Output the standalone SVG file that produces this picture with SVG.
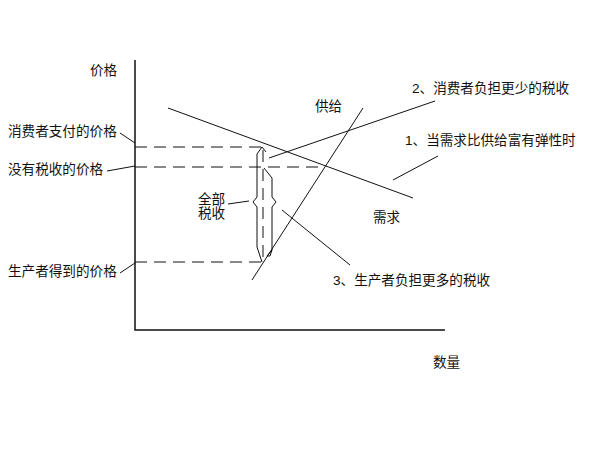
<svg xmlns="http://www.w3.org/2000/svg" width="600" height="450" viewBox="0 0 600 450">
<style>
text{font-family:"Liberation Sans","Noto Sans CJK SC",sans-serif;font-size:13.6px;fill:#111}
.ln{stroke:#111;stroke-width:1;fill:none}
.ax{stroke:#111;stroke-width:1.5;fill:none}
.ds{stroke:#111;stroke-width:1;fill:none;stroke-dasharray:12,7}
</style>
<rect width="600" height="450" fill="#fff"/>
<g id="axes">
<path class="ax" d="M135,60 V330 H445"/>
<text x="90" y="75">价格</text>
<text x="433" y="367">数量</text>
</g>
<g id="connectors">
<path class="ds" d="M135,147 H265"/>
<path class="ds" d="M135,167 H325"/>
<path class="ds" d="M135,262 H262"/>
<path class="ds" d="M263,150 V260"/>
<path class="ln" d="M120,133 L135,143"/>
<path class="ln" d="M107,171 L135,166"/>
<path class="ln" d="M120,273 L135,263"/>
<path class="ln" d="M228,204 L249,201"/>
<path class="ln" d="M269,158 L435,101"/>
<path class="ln" d="M393,180 L438,156"/>
<path class="ln" d="M282,210 L350,265"/>
<path class="ln" d="M257,154 L262,147 L266,152 M257,154 V197 L253,202 L257,207 V247 L262,262"/>
<path class="ln" d="M264,168 L272,178 V197 L276,202 L272,207 V250 L267,256 M272,250 L270,256 L267,256"/>
</g>
<g id="demand">
<path class="ln" d="M168,108 L413,198"/>
<text x="373" y="222">需求</text>
</g>
<g id="supply">
<path class="ln" d="M363,108 L252,280"/>
<text x="315" y="111">供给</text>
</g>
<g id="labels">
<text x="8" y="136">消费者支付的价格</text>
<text x="8" y="174">没有税收的价格</text>
<text x="8" y="276">生产者得到的价格</text>
<text x="198" y="204">全部</text>
<text x="198" y="218">税收</text>
<text x="412" y="93">2、消费者负担更少的税收</text>
<text x="405" y="145">1、当需求比供给富有弹性时</text>
<text x="333" y="285">3、生产者负担更多的税收</text>
</g>
</svg>
